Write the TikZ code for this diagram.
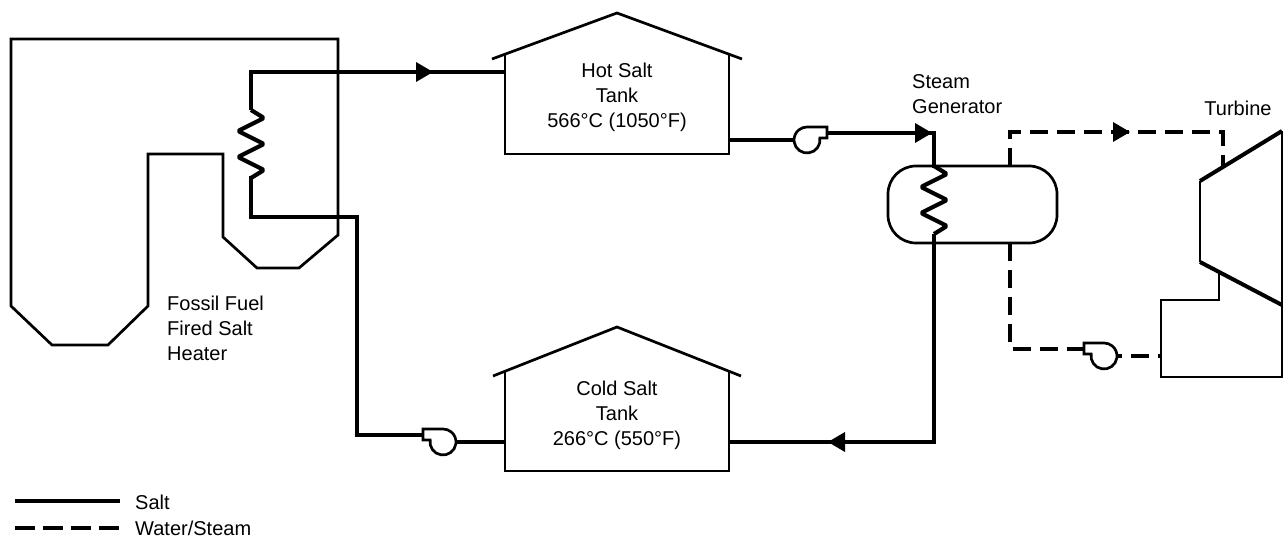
\documentclass[tikz,border=0pt]{standalone}
\usepackage{fontspec}
\setmainfont{Liberation Sans}
\begin{document}
\begin{tikzpicture}[x=1pt,y=-1pt,
  outline/.style={line width=2.7pt, line join=miter},
  thickedge/.style={line width=4pt},
  salt/.style={line width=4pt, line join=miter},
  coil/.style={line width=4.2pt, line join=round, rounded corners=2pt},
  water/.style={line width=4pt, dash pattern=on 18pt off 9pt},
  lbl/.style={font=\fontsize{20}{25}\selectfont, inner sep=0pt},
  flowtip/.pic={\fill (0,0) -- (-17,-10) -- (-17,10) -- cycle;},
  pumpsym/.pic={\draw[line width=2.7pt, fill=white] (0,-13) -- (20,-13) -- (20,-2) -- (12.85,-2) arc[start angle=-8.85, end angle=270, radius=13] -- cycle;}
]
\useasboundingbox (0,0) rectangle (1285,537);

% ---------- heater ----------
\draw[outline] (11,39) -- (338,39) -- (338,235) -- (299,268) -- (257,268) -- (223,237)
  -- (223,154) -- (148,154) -- (148,306) -- (108,345) -- (52,345) -- (11,306) -- cycle;
\node[lbl, align=left, anchor=west] (heaterlbl) at (167,328) {Fossil Fuel\\Fired Salt\\Heater};

% ---------- hot tank ----------
\draw[outline] (492,59) -- (617,13) -- (742,59);
\draw[outline] (505,54.2) -- (505,154) -- (729,154) -- (729,54.2);
\node[lbl, align=center] (hotlbl) at (617,97) {Hot Salt\\Tank\\566°C (1050°F)};
\coordinate (hotIn) at (505,72);
\coordinate (hotOut) at (729,140);

% ---------- cold tank ----------
\draw[outline] (493,376) -- (617,327) -- (741,376);
\draw[outline] (505,371.3) -- (505,471) -- (729,471) -- (729,371.3);
\node[lbl, align=center] (coldlbl) at (617,415) {Cold Salt\\Tank\\266°C (550°F)};
\coordinate (coldIn) at (729,442);
\coordinate (coldOut) at (505,442);

% ---------- steam generator ----------
\draw[outline, rounded corners=28pt] (888,166) rectangle (1057,243);
\node[lbl, align=left, anchor=west] (sglbl) at (912,94) {Steam\\Generator};

% ---------- turbine and condenser ----------
\draw[outline] (1200,181) -- (1200,262);
\draw[outline] (1282,131) -- (1282,377) -- (1161,377) -- (1161,300) -- (1219,300) -- (1219,272);
\draw[thickedge] (1200,181) -- (1282,131);
\draw[thickedge] (1200,262) -- (1282,305);
\node[lbl] (turblbl) at (1238,108) {Turbine};
\coordinate (turbIn) at (1223,167);
\coordinate (condIn) at (1161,356);

% ---------- salt loop ----------
\coordinate (cpTab) at (423,435);
\coordinate (hpTab) at (827,133);
\draw[salt] (cpTab) -- (357,435) -- (357,217) -- (251,217) -- (251,176);
\draw[coil] (251,178) -- ++(13,-8) -- ++(-26,-13) -- ++(26,-13) -- ++(-26,-13) -- ++(26,-13) -- ++(-13,-8);
\draw[salt] (251,110) -- (251,72) -- (hotIn);
\draw[salt] (hotOut) -- (807,140);
\draw[salt] (hpTab) -- (934,133) -- (934,168);
\draw[coil] (934,166) -- ++(13,8) -- ++(-26,13) -- ++(26,13) -- ++(-26,13) -- ++(26,13) -- ++(-13,8);
\draw[salt] (934,234) -- (934,442) -- (coldIn);
\draw[salt] (coldOut) -- (443,442);

% ---------- water / steam loop ----------
\draw[water] (1010,166) -- (1010,132) -- (1223,132) -- (turbIn);
\draw[water] (1010,243) -- (1010,348.5) -- (1084,348.5);
\draw[water] (1104,356) -- (condIn);

% ---------- pumps ----------
\pic at (807,140) {pumpsym};
\pic[xscale=-1] at (443,442) {pumpsym};
\pic[xscale=-1] at (1104,356) {pumpsym};

% ---------- flow arrows ----------
\pic at (433,72) {flowtip};
\pic at (932,133) {flowtip};
\pic[rotate=180] at (828,442) {flowtip};
\pic at (1130,132) {flowtip};

% ---------- legend ----------
\coordinate (lsA) at (15,501);
\coordinate (lsB) at (120,501);
\coordinate (lwA) at (15,528);
\coordinate (lwB) at (120,528);
\draw[line width=4pt] (lsA) -- (lsB);
\draw[line width=4pt, dash pattern=on 20pt off 8pt] (lwA) -- (lwB);
\node[lbl, anchor=west] (saltlbl) at (135,502) {Salt};
\node[lbl, anchor=west] (waterlbl) at (135,528) {Water/Steam};
\end{tikzpicture}
\end{document}
